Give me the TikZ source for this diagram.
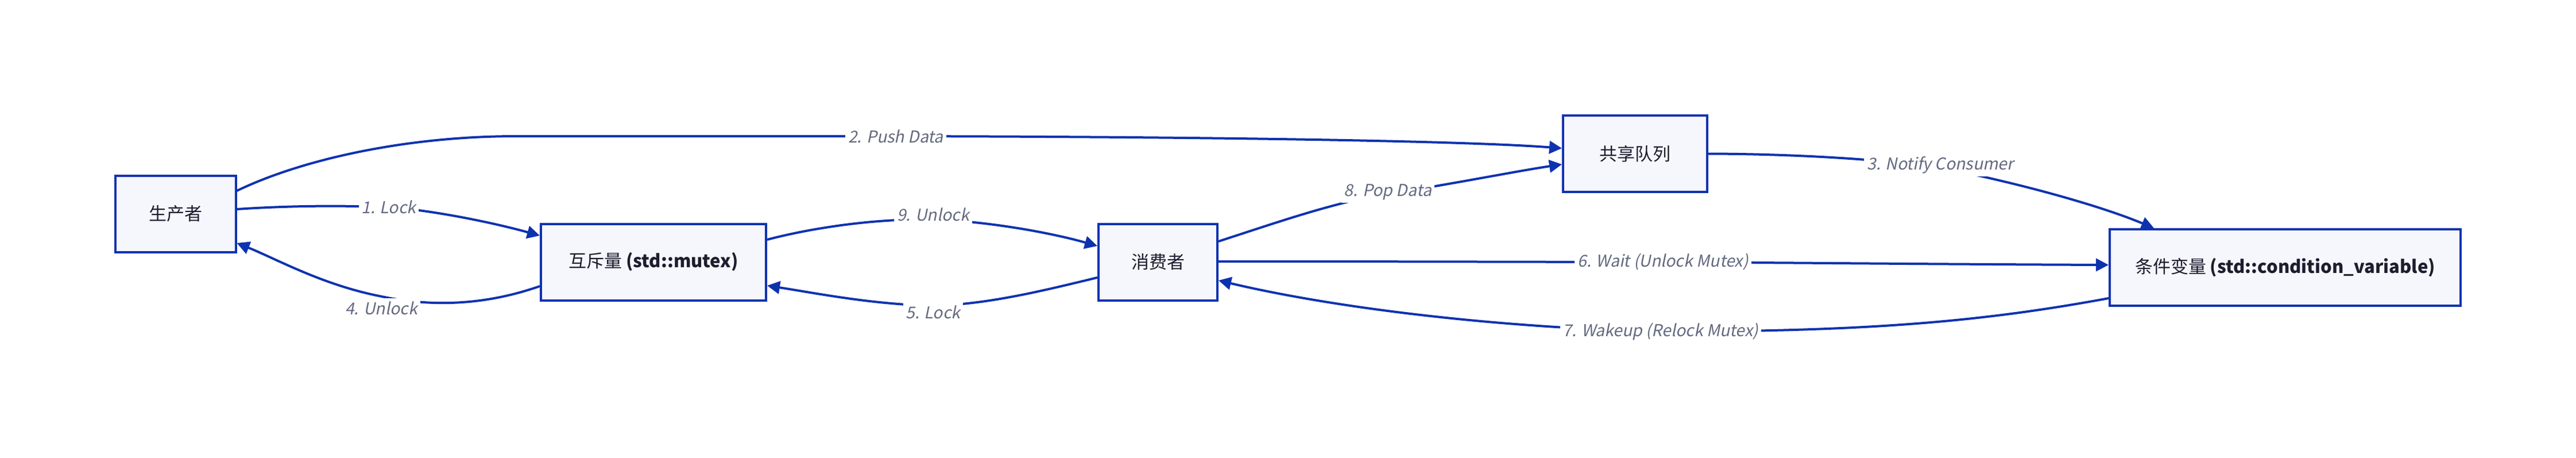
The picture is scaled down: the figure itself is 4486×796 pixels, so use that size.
\documentclass[tikz,border=0pt]{standalone}
\usepackage{fontspec}
\setmainfont{Noto Sans CJK SC}
\newfontfamily\lblfont[FakeSlant=0.2]{Noto Sans CJK SC}
\usetikzlibrary{arrows.meta,calc}
\definecolor{edgeblue}{RGB}{13,50,176}
\definecolor{nodefill}{RGB}{246,247,253}
\definecolor{lblgray}{RGB}{100,106,128}
\definecolor{txtdark}{RGB}{28,30,46}
\tikzset{
  box/.style={draw=edgeblue, line width=4pt, fill=nodefill, text=txtdark, inner sep=0pt,
    minimum height=133pt, font=\fontsize{31}{37}\selectfont},
  conn/.style={draw=edgeblue, line width=4pt, -{Triangle[length=22pt,width=22pt]}},
  lbl/.style={fill=white, text=lblgray, inner sep=5pt, font=\lblfont\fontsize{28.5}{34}\selectfont}
}
\begin{document}
\begin{tikzpicture}[x=1pt,y=-1pt]
\useasboundingbox[fill=white] (0,0) rectangle (4486,796);
% nodes
\node[box, minimum width=210pt] (prod) at (305.5,372) {生产者};
\node[box, minimum width=392pt] (mutex) at (1138,456) {互斥量 \textbf{(std::mutex)}};
\node[box, minimum width=207pt] (cons) at (2016.5,456) {消费者};
\node[box, minimum width=251pt] (queue) at (2847.5,267.5) {共享队列};
\node[box, minimum width=611pt] (cv) at (3979.5,465.5) {条件变量 \textbf{(std::condition\_variable)}};
% connectors
\draw[conn] ($(prod.east)+(0,-8)$) .. controls (500,358) and (600,357) .. (677,361)
  .. controls (740,364) and (850,385) .. ($(mutex.west)+(0,-46)$);
\draw[conn] ($(prod.east)+(0,-40)$) .. controls (520,280) and (700,237) .. (900,237)
  -- (1560,237) .. controls (2100,238) and (2550,245) .. ($(queue.west)+(0,-9.5)$);
\draw[conn] (queue.east) .. controls (3150,268) and (3300,280) .. (3379,292)
  .. controls (3500,315) and (3650,355) .. ($(cv.north)+(-228.5,0)$);
\draw[conn] ($(mutex.west)+(0,42)$) .. controls (820,540) and (720,528) .. (660,515)
  .. controls (560,495) and (480,450) .. ($(prod.east)+(0,51)$);
\draw[conn] ($(cons.west)+(0,27)$) .. controls (1820,505) and (1720,530) .. (1625,532)
  .. controls (1520,530) and (1420,510) .. ($(mutex.east)+(0,41)$);
\draw[conn] ($(mutex.east)+(0,-39)$) .. controls (1420,395) and (1530,380) .. (1625,382)
  .. controls (1720,385) and (1830,405) .. ($(cons.west)+(0,-28)$);
\draw[conn] ($(cons.east)+(0,-36)$) .. controls (2230,385) and (2330,350) .. (2420,337)
  .. controls (2530,320) and (2640,298) .. ($(queue.west)+(0,18.5)$);
\draw[conn] ($(cons.east)+(0,-1)$) .. controls (2500,455) and (2700,456) .. (2896,456)
  .. controls (3100,457) and (3400,460) .. ($(cv.west)+(0,-4.5)$);
\draw[conn] ($(cv.west)+(0,53.5)$) .. controls (3450,560) and (3250,577) .. (2892,577)
  .. controls (2600,570) and (2320,535) .. ($(cons.east)+(0,32)$);
% labels
\node[lbl] (l1) at (677,360) {1. Lock};
\node[lbl] (l2) at (1560,237) {2. Push Data};
\node[lbl] (l3) at (3379,287) {3. Notify Consumer};
\node[lbl] (l4) at (664,536) {4. Unlock};
\node[lbl] (l5) at (1625,543) {5. Lock};
\node[lbl] (l6) at (2896,456) {6. Wait (Unlock Mutex)};
\node[lbl] (l7) at (2892,577) {7. Wakeup (Relock Mutex)};
\node[lbl] (l8) at (2417,334) {8. Pop Data};
\node[lbl] (l9) at (1625,373) {9. Unlock};
\end{tikzpicture}
\end{document}
